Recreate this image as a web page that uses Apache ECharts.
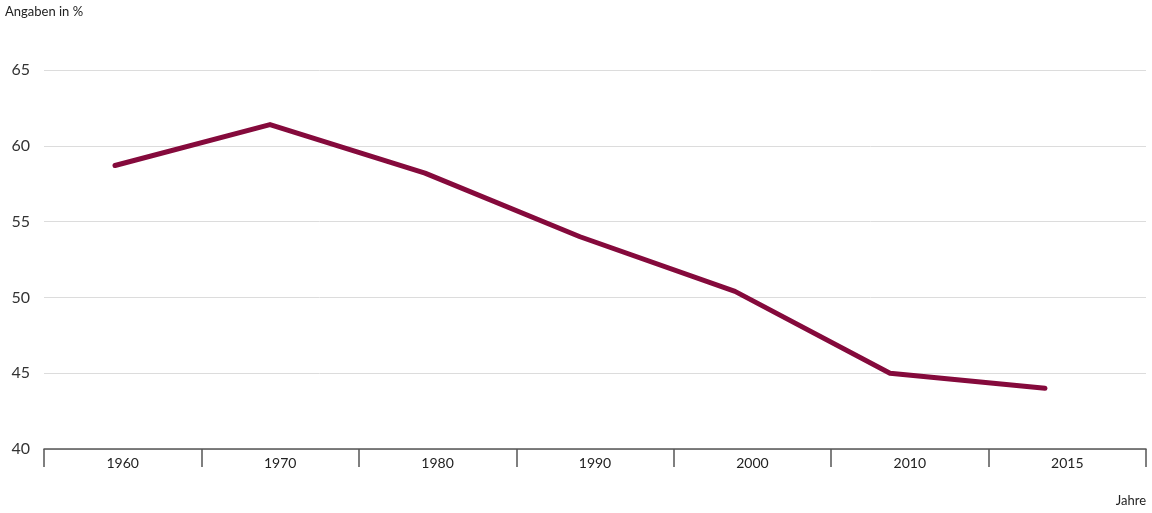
<!DOCTYPE html>
<html>
<head>
<meta charset="utf-8">
<script src="https://cdn.jsdelivr.net/npm/echarts@6/dist/echarts.min.js"></script>
<style>html,body{margin:0;padding:0;background:#fff}#c{width:1152px;height:513px}</style>
</head>
<body>
<div id="c"></div>
<script>
var categories = ['1960', '1970', '1980', '1990', '2000', '2010', '2015'];
var values = [58.7, 61.4, 58.2, 54.0, 50.4, 45.0, 44.0];
var yTicks = [40, 45, 50, 55, 60, 65];

var FONT = 'Lato, "Noto Sans", sans-serif';
var chart = echarts.init(document.getElementById('c'), null, {renderer: 'canvas'});
chart.setOption({
  animation: false,
  backgroundColor: '#fff',
  textStyle: {fontFamily: FONT},
  grid: [
    {left: 44, right: 6, top: 70, bottom: 64},
    {left: 115, right: 107, top: 70, bottom: 64}
  ],
  xAxis: [
    {
      type: 'category', gridIndex: 0, data: categories, boundaryGap: true,
      axisLine: {lineStyle: {color: '#555', width: 1.5}},
      axisTick: {show: true, length: 18, interval: 0, lineStyle: {color: '#555', width: 1.5}},
      axisLabel: {fontSize: 14, color: '#222', margin: 7, fontFamily: FONT}
    },
    {type: 'category', gridIndex: 1, data: categories, boundaryGap: false, show: false}
  ],
  yAxis: [
    {
      type: 'value', gridIndex: 0, min: yTicks[0], max: yTicks[yTicks.length - 1], interval: 5,
      axisLine: {show: false}, axisTick: {show: false},
      splitLine: {lineStyle: {color: '#dcdcdc', width: 1}},
      axisLabel: {fontSize: 16, color: '#333', margin: 14, fontFamily: FONT}
    },
    {type: 'value', gridIndex: 1, min: yTicks[0], max: yTicks[yTicks.length - 1], show: false}
  ],
  series: [{
    type: 'line', xAxisIndex: 1, yAxisIndex: 1, data: values,
    symbol: 'none', lineStyle: {color: '#850a3c', width: 5, cap: 'round', join: 'round'}
  }],
  graphic: [
    {type: 'text', left: 5, top: 5, style: {text: 'Angaben in %', fontSize: 13, fill: '#222', fontFamily: FONT}},
    {type: 'text', right: 6, top: 494, style: {text: 'Jahre', fontSize: 13, fill: '#222', fontFamily: FONT}}
  ]
});
</script>
</body>
</html>
